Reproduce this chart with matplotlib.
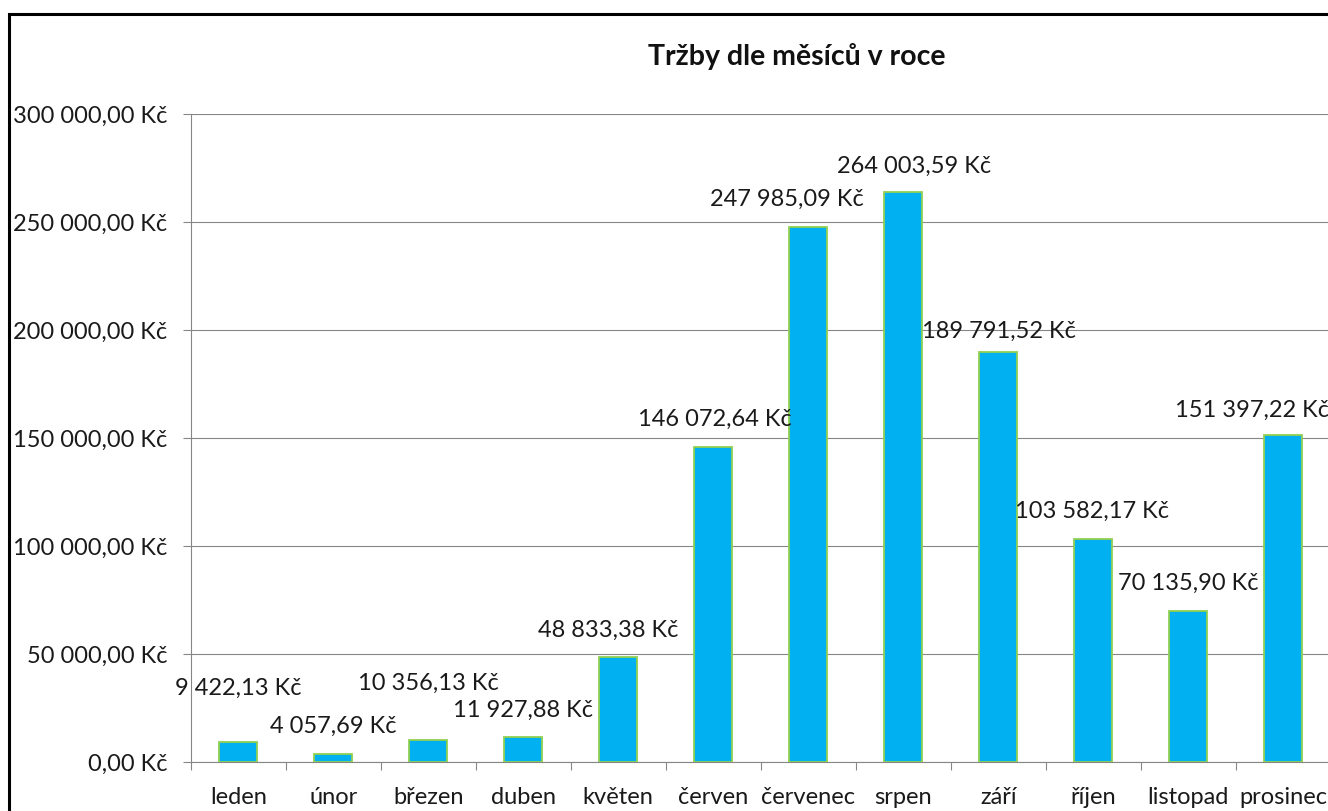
import matplotlib
matplotlib.use("Agg")
import matplotlib.pyplot as plt
from matplotlib.patches import Rectangle
from matplotlib.ticker import FuncFormatter, MultipleLocator

months = ["leden", "únor", "březen", "duben", "květen", "červen", "červenec",
          "srpen", "září", "říjen", "listopad", "prosinec"]
sales = [9422.13, 4057.69, 10356.13, 11927.88, 48833.38, 146072.64, 247985.09,
         264003.59, 189791.52, 103582.17, 70135.90, 151397.22]
title = "Tržby dle měsíců v roce"

# label placement offsets (pixels) relative to bar top
label_dx = [0, 0, 0, 0, -10, 1.5, -21.5, 10.5, 0.5, -1.5, 0, -31]
label_dy = [54, 27, 57, 26, 26, 27, 27, 26, 21, 27, 27, 25]

FONT = "Lato"
plt.rcParams['font.family'] = [FONT, 'DejaVu Sans']

def kc(v, pos=None):
    s = f"{v:,.2f}"
    s = s.replace(",", " ").replace(".", ",")
    return s + " Kč"

W, H = 1328, 811
fig = plt.figure(figsize=(W / 100, H / 100), dpi=100)
ax = fig.add_axes([190.7 / W, (H - 762.3) / H, 1140 / W, 648 / H])

grid_c = "#868686"
txt_c = "#1a1a1a"
FS = 17
x = list(range(len(months)))
ax.bar(x, sales, width=0.4, color="#00B0F0", edgecolor="#92D050", linewidth=1.3, zorder=3)

ax.set_xlim(-0.5, len(months) - 0.5)
ax.set_ylim(0, 300000)
ax.yaxis.set_major_locator(MultipleLocator(50000))
ax.yaxis.set_major_formatter(FuncFormatter(kc))
ax.grid(axis="y", color=grid_c, linewidth=0.8, zorder=0)
ax.set_axisbelow(True)

ax.set_xticks([i - 0.5 for i in range(len(months) + 1)])
ax.set_xticklabels([])
ax.set_xticks(x, minor=True)
ax.set_xticklabels(months, minor=True)
ax.tick_params(axis="x", which="major", length=6, color=grid_c, width=0.8, direction="out")
ax.tick_params(axis="x", which="minor", length=0, pad=18, labelsize=FS, labelcolor=txt_c)
ax.tick_params(axis="y", length=6, color=grid_c, width=0.8, pad=11, labelsize=FS, labelcolor=txt_c)

for side in ["top", "right"]:
    ax.spines[side].set_visible(False)
for side in ["left", "bottom"]:
    ax.spines[side].set_color(grid_c)
    ax.spines[side].set_linewidth(0.8)

for i, v in enumerate(sales):
    ax.annotate(kc(v), xy=(i, v), xytext=(label_dx[i], label_dy[i]),
                textcoords="offset pixels", ha="center", va="center",
                fontsize=FS, color=txt_c, annotation_clip=False, zorder=4)

fig.text(797 / W, 1 - 57 / H, title, ha="center", va="center",
         fontsize=20.5, fontweight="bold", color="#111111")

# outer chart frame (partially cropped)
fig.patches.append(Rectangle((9 / W, -0.2), 1.5, 1 - 14 / H + 0.2, transform=fig.transFigure,
                             fill=False, edgecolor="black", linewidth=2.2, zorder=10))

fig.savefig("out.png", dpi=100)
